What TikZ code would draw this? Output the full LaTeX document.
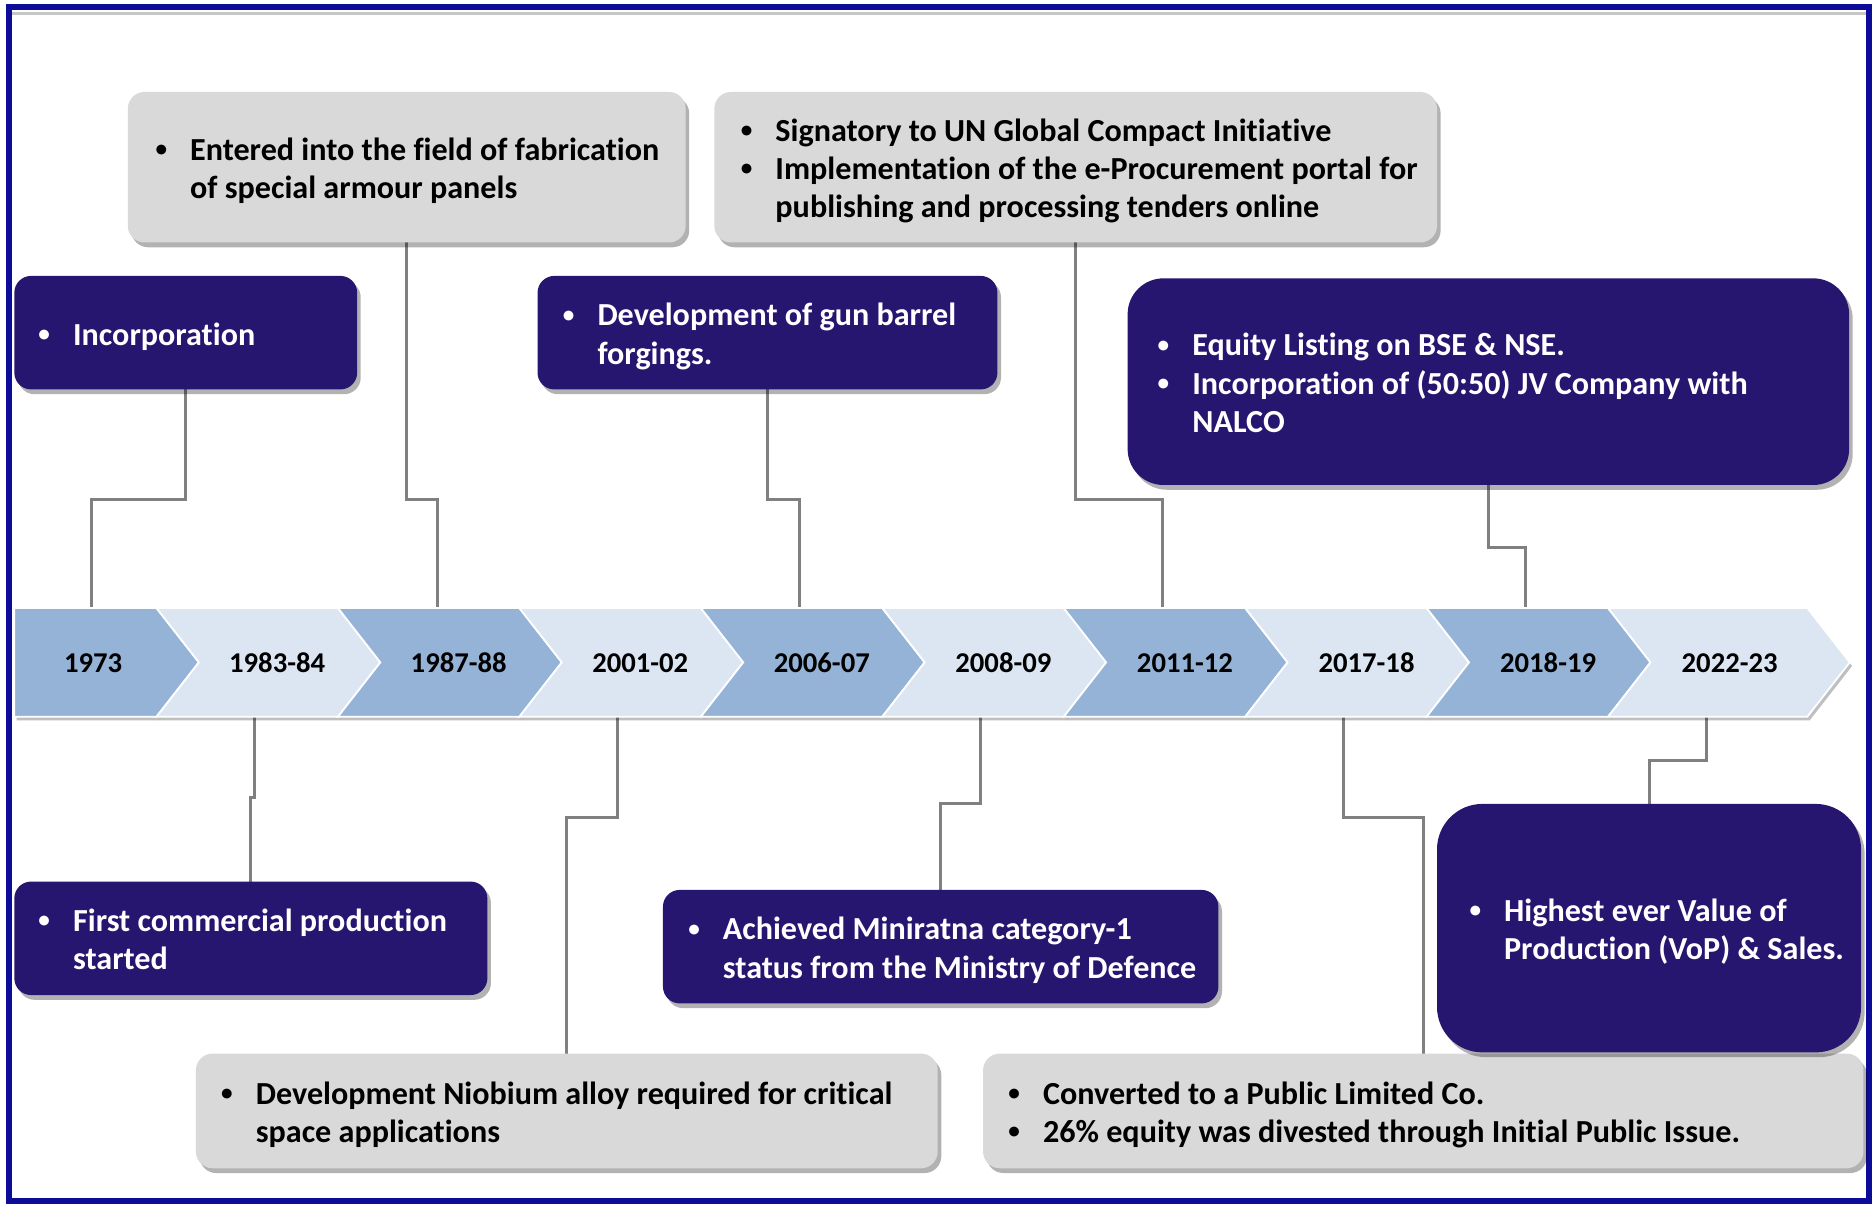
\documentclass[tikz,border=0pt]{standalone}
\usepackage{fontspec}
\setmainfont{Carlito}[Ligatures={NoCommon}]
\usetikzlibrary{shadows,calc}
\definecolor{navy}{RGB}{39,22,112}
\definecolor{boxgray}{RGB}{217,217,217}
\definecolor{chevdark}{RGB}{149,179,215}
\definecolor{chevlight}{RGB}{220,230,242}
\definecolor{frameblue}{RGB}{12,12,152}
\definecolor{conngray}{RGB}{128,128,128}
\newcommand\bul{\makebox[26pt][l]{\hspace{-3pt}\raisebox{0.12em}{\scalebox{0.72}{\textbullet}}}}
\newcommand\boxfont{\fontsize{26.9}{32}\selectfont\bfseries}
\pgfdeclarelayer{bg}
\pgfsetlayers{bg,main}
\begin{document}
\begin{tikzpicture}[x=1pt,y=-1pt,
  boxbase/.style={rectangle, inner sep=0pt, outer sep=0pt,
    drop shadow={shadow xshift=3pt,shadow yshift=-4pt,opacity=0.3,fill=black}},
  navybox/.style={boxbase, fill=navy, rounded corners=14pt},
  graybox/.style={boxbase, fill=boxgray, rounded corners=14pt},
  wtxt/.style={inner sep=0pt, anchor=west, text=white, font=\boxfont},
  btxt/.style={inner sep=0pt, anchor=west, text=black, font=\boxfont},
  yr/.style={inner sep=0pt, font=\fontsize{24}{28}\selectfont\bfseries, text=black},
  conn/.style={draw=conngray, line width=2.5pt},
  chev/.style={draw=white, line width=1.5pt,
    drop shadow={shadow xshift=2pt,shadow yshift=-3pt,opacity=0.25,fill=black}}
]
\useasboundingbox (0,0) rectangle (1568,1010.4);
% frame
\draw[gray!45, line width=2.5pt] (10,11) -- (1562,11);
\draw[frameblue, line width=5pt] (7.5,5.5) rectangle (1564.5,1005.5);

% chevrons
\path[chev, fill=chevdark] (12,509) -- (131,509) -- (166.5,554.5) -- (131,600) -- (12,600) -- cycle;
\foreach \i in {1,...,9}{
  \pgfmathsetmacro{\bl}{131+151.9*(\i-1)}
  \pgfmathsetmacro{\br}{ifthenelse(\i==9,1513,131+151.9*\i)}
  \pgfmathtruncatemacro{\pp}{mod(\i,2)}
  \ifnum\pp=0 \def\cc{chevdark}\else\def\cc{chevlight}\fi
  \path[chev, fill=\cc] (\bl,509) -- (\br,509) -- (\br+35.5,554.5) -- (\br,600) -- (\bl,600) -- (\bl+35.5,554.5) -- cycle;
}
\node[yr] (y1973) at (78,555) {1973};
\node[yr] (y1983) at (232,555) {1983-84};
\node[yr] (y1987) at (384,555) {1987-88};
\node[yr] (y2001) at (536,555) {2001-02};
\node[yr] (y2006) at (688,555) {2006-07};
\node[yr] (y2008) at (840,555) {2008-09};
\node[yr] (y2011) at (992,555) {2011-12};
\node[yr] (y2017) at (1144,555) {2017-18};
\node[yr] (y2018) at (1296,555) {2018-19};
\node[yr] (y2022) at (1448,555) {2022-23};

\coordinate (a0) at (77,509);
\coordinate (a2) at (365.9,509);
\coordinate (a4) at (669.7,509);
\coordinate (a6) at (973.5,509);
\coordinate (a8) at (1277.3,509);
\coordinate (a1) at (213,600);
\coordinate (a3) at (516.8,600);
\coordinate (a5) at (820.6,600);
\coordinate (a7) at (1124.4,600);
\coordinate (a9) at (1428.2,600);

% boxes
\node[graybox, minimum width=467pt, minimum height=126pt] (ent) at (340.5,140) {};
\node[navybox, minimum width=287pt, minimum height=95pt] (inc) at (155.5,278.5) {};
\node[navybox, minimum width=385pt, minimum height=95pt] (gun) at (642.5,278.5) {};
\node[graybox, minimum width=605pt, minimum height=126pt] (sig) at (900.5,140) {};
\node[navybox, rounded corners=30pt, minimum width=604pt, minimum height=173pt] (eq) at (1246,319.5) {};
\node[navybox, minimum width=396pt, minimum height=95pt] (fc) at (210,785.5) {};
\node[navybox, minimum width=465pt, minimum height=95pt] (mini) at (787.5,792.5) {};
\node[graybox, minimum width=621pt, minimum height=96pt] (nb) at (474.5,930) {};
\node[graybox, minimum width=737pt, minimum height=96pt] (conv) at (1191.5,930) {};
\node[navybox, rounded corners=38pt, minimum width=355pt, minimum height=208pt] (high) at (1380.5,777) {};

% texts
\node[btxt] (tent) at ([xshift=26pt,yshift=-4pt]ent.west) {\begin{tabular}{@{}l@{}l@{}}\bul & Entered into the field of fabrication\\ & of special armour panels\end{tabular}};
\node[wtxt] (tinc) at ([xshift=23pt,yshift=-4pt]inc.west) {\begin{tabular}{@{}l@{}l@{}}\bul & Incorporation\end{tabular}};
\node[wtxt] (tgun) at ([xshift=24pt,yshift=-4pt]gun.west) {\begin{tabular}{@{}l@{}l@{}}\bul & Development of gun barrel\\ & forgings.\end{tabular}};
\node[btxt] (tsig) at ([xshift=25pt,yshift=-4pt]sig.west) {\begin{tabular}{@{}l@{}l@{}}\bul & Signatory to UN Global Compact Initiative\\ \bul & Implementation of the e-Procurement portal for\\ & publishing and processing tenders online\end{tabular}};
\node[wtxt] (teq) at ([xshift=28pt,yshift=-4pt]eq.west) {\begin{tabular}{@{}l@{}l@{}}\bul & Equity Listing on BSE \& NSE.\\ \bul & Incorporation of (50:50) JV Company with\\ & NALCO\end{tabular}};
\node[wtxt] (tfc) at ([xshift=23pt,yshift=-4pt]fc.west) {\begin{tabular}{@{}l@{}l@{}}\bul & First commercial production\\ & started\end{tabular}};
\node[wtxt] (tmini) at ([xshift=24pt,yshift=-4pt]mini.west) {\begin{tabular}{@{}l@{}l@{}}\bul & Achieved Miniratna category-1\\ & status from the Ministry of Defence\end{tabular}};
\node[btxt] (tnb) at ([xshift=24pt,yshift=-4pt]nb.west) {\begin{tabular}{@{}l@{}l@{}}\bul & Development Niobium alloy required for critical\\ & space applications\end{tabular}};
\node[btxt] (tconv) at ([xshift=24pt,yshift=-4pt]conv.west) {\begin{tabular}{@{}l@{}l@{}}\bul & Converted to a Public Limited Co.\\ \bul & 26\% equity was divested through Initial Public Issue.\end{tabular}};
\node[wtxt] (thigh) at ([xshift=30pt,yshift=-4pt]high.west) {\begin{tabular}{@{}l@{}l@{}}\bul & Highest ever Value of\\ & Production (VoP) \& Sales.\end{tabular}};

% connectors
\begin{pgfonlayer}{bg}
\draw[conn] (inc.south) -- ++(0,92) -| (a0);
\draw[conn] (ent.south) -- ++(0,215) -| (a2);
\draw[conn] (gun.south) -- ++(0,92) -| (a4);
\draw[conn] (sig.south) -- ++(0,215) -| (a6);
\draw[conn] (eq.south) -- ++(0,52) -| (a8);
\draw[conn] (a1) -- ++(0,68) -| (fc.north);
\draw[conn] (a3) -- ++(0,84) -| (nb.north);
\draw[conn] (a5) -- ++(0,73) -| (mini.north);
\draw[conn] (a7) -- ++(0,84) -| (conv.north);
\draw[conn] (a9) -- ++(0,37) -| (high.north);
\end{pgfonlayer}
\end{tikzpicture}
\end{document}
